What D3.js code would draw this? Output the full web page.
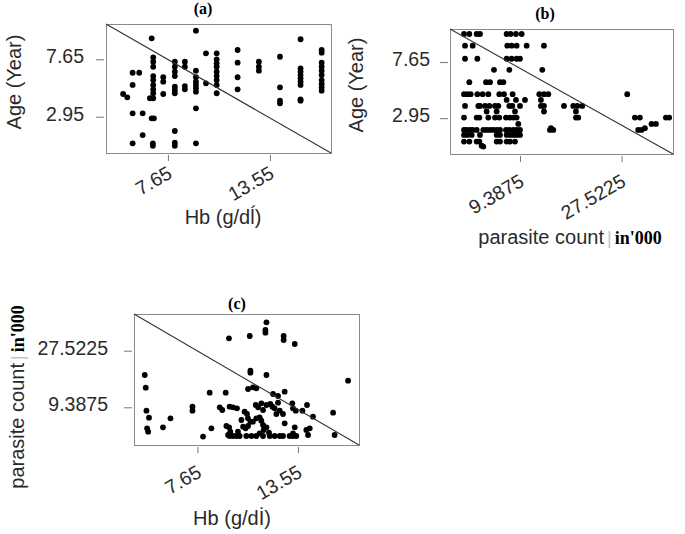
<!DOCTYPE html>
<html><head><meta charset="utf-8">
<script src="https://cdn.jsdelivr.net/npm/d3@7"></script>
<style>
html,body{margin:0;padding:0;background:#fff;}
svg{display:block;}
</style></head>
<body>
<svg id="chart" width="685" height="534"></svg>
<script>
// ---------- DATA ----------
// Panel (a): Hb (g/dl) vs Age (Year); points grouped by Hb column
const hbLevelsA = [5.06, 5.30, 5.61, 5.99, 6.19, 6.61, 6.71, 6.78, 6.80, 6.84, 7.38, 8.05, 8.63, 9.27, 9.85, 10.47, 11.68, 12.91, 14.13, 15.32, 16.54];
const ageByHbA = [
  [4.81],
  [4.54],
  [6.55, 5.55, 3.23, 0.77],
  [6.55],
  [3.23, 1.45],
  [4.46],
  [9.37, 2.82],
  [0.77, 0.57],
  [7.81, 7.45, 7.04, 6.28, 5.95, 5.55, 5.19, 4.87, 4.46],
  [2.82],
  [6.18, 5.82, 4.81],
  [7.45, 7.04, 6.63, 6.28, 5.41, 5.14, 4.87, 1.78, 0.82, 0.57],
  [7.45, 7.04, 5.46, 5.19],
  [9.99, 6.72, 6.18, 5.82, 5.55, 5.28, 5.00, 3.64, 0.77],
  [8.14, 5.68],
  [8.14, 7.65, 7.32, 7.04, 6.63, 6.28, 5.95, 5.55, 4.87],
  [8.41, 7.37, 6.18, 5.19],
  [7.45, 7.04, 6.72],
  [7.86, 5.36, 4.26, 4.05],
  [9.29, 6.91, 6.63, 6.36, 6.09, 5.82, 5.55, 4.37, 4.26],
  [8.41, 8.19, 7.37, 7.04, 6.72, 6.36, 5.95, 5.63, 5.36, 5.08]
];

// Panel (b): parasite count (in '000) vs Age (Year); points grouped by age row
const ageLevelsB = [10.0, 9.02, 7.93, 7.00, 5.97, 4.96, 4.48, 3.98, 3.51, 3.00, 2.47, 2.11, 1.97, 1.55, 0.99, 0.65, 0.57];
const parasiteByAgeB = [
  [-0.60, 0.35, 1.66, 2.25, 7.01, 7.72, 8.67, 9.69],
  [-0.42, 0.95, 7.13, 7.90, 8.79, 10.58, 13.67],
  [-0.42, 1.78, 7.01, 7.90, 8.79, 9.39],
  [4.75, 7.49, 13.37],
  [0.35, 3.33, 4.04, 5.82, 6.42],
  [-0.60, -0.01, 0.59, 1.78, 2.73, 3.74, 5.70, 6.54, 8.08, 12.84, 13.67, 14.44, 28.53],
  [7.01, 8.67, 10.28, 13.13],
  [-0.42, 1.96, 2.25, 3.15, 3.92, 4.93, 5.52, 7.49, 8.02, 9.39, 13.13, 13.67, 17.24, 18.90, 19.62, 20.51],
  [3.44, 5.23, 8.50, 13.67, 19.38],
  [-0.60, 1.66, 2.14, 3.74, 4.93, 5.70, 6.89, 7.61, 8.20, 8.79, 19.38, 19.79, 29.90, 30.79, 35.43, 36.02],
  [9.09, 32.87, 33.65],
  [14.92, 31.68],
  [-0.60, -0.12, 0.47, 0.95, 1.66, 2.85, 3.44, 4.04, 4.63, 5.23, 5.82, 6.89, 7.49, 8.20, 8.79, 9.39, 14.74, 15.33, 30.49, 31.09],
  [-0.60, -0.01, 0.77, 2.25, 5.23, 5.82, 7.01, 7.61, 8.20, 8.79, 9.39],
  [-0.60, 0.35, 1.66, 2.14, 5.23, 5.82, 7.01, 7.61, 8.50],
  [2.55],
  [2.85]
];

// Panel (c): Hb (g/dl) vs parasite count (in '000)
const hbC = [11.70, 11.64, 11.64, 9.50, 10.72, 12.71, 12.71, 13.36, 4.56, 4.62, 10.76, 10.76, 11.70, 16.49,
  10.62, 10.91, 11.11, 8.37, 9.31, 12.09, 12.38, 12.77, 4.66, 4.81, 4.70, 4.76, 5.63, 6.07, 7.36, 7.36, 8.47, 7.98,
  8.96, 9.11, 9.54, 9.74, 9.97, 10.42, 10.56, 10.62, 10.76, 10.62, 10.48, 9.35, 9.51, 9.58, 9.45, 9.74,
  11.07, 11.21, 11.40, 11.50, 11.70, 11.93, 12.05, 12.18, 12.28, 12.38, 12.48, 12.67, 12.77, 13.22, 13.26, 13.42,
  13.81, 14.08, 14.43, 15.61, 15.70, 11.30, 11.40, 11.50, 11.54, 11.70, 11.85, 11.30, 10.23, 10.33, 10.03, 10.91,
  11.11, 13.36, 13.26, 13.45, 14.04, 14.24, 14.14,
  9.54, 9.94, 10.13, 10.52, 10.82, 11.11, 11.50, 11.89, 12.18, 12.48, 12.67, 13.06, 13.26];
const parasiteC = [36.61, 34.15, 33.30, 31.48, 32.23, 32.23, 30.95, 29.67, 19.73, 15.68, 21.12, 20.48, 19.73, 17.92,
  15.25, 15.78, 15.46, 14.07, 14.07, 13.65, 13.01, 14.40, 8.31, 6.06, 2.65, 1.58, 2.97, 5.85, 9.59, 8.31, 2.65, 0.00,
  9.37, 8.52, 9.59, 9.37, 9.05, 7.99, 7.24, 5.85, 4.78, 3.39, 2.65, 3.39, 2.97, 1.58, 0.51, 0.19,
  10.12, 9.37, 10.66, 8.52, 10.12, 10.44, 9.59, 9.05, 7.24, 10.87, 8.31, 7.24, 4.25, 10.66, 9.05, 8.31,
  8.31, 10.12, 6.38, 7.67, 0.51, 6.17, 5.10, 3.71, 2.11, 2.97, 1.26, 1.04, 5.32, 3.18, 1.58, 4.78,
  5.85, 2.97, 1.04, 0.19, 2.11, 2.65, 0.51,
  0.19, 0.19, 0.19, 0.19, 0.19, 0.19, 0.19, 0.19, 0.19, 0.19, 0.19, 0.19, 0.19];

// Tick labels
const hbTicks = [7.65, 13.55];
const ageTicks = [7.65, 2.95];
const parasiteTicks = [9.3875, 27.5225];

// ---------- DRAWING ----------
const svg = d3.select("#chart");
const SANS = "'Liberation Sans', Arial, sans-serif";
const SERIF = "'Liberation Serif', 'Times New Roman', serif";

function panel(cfg) {
  const x = d3.scaleLinear().domain(cfg.xDomain).range([cfg.box[0], cfg.box[2]]);
  const y = d3.scaleLinear().domain(cfg.yDomain).range([cfg.box[3], cfg.box[1]]);
  const g = svg.append("g");

  g.append("rect")
    .attr("x", cfg.box[0] + 0.5).attr("y", cfg.box[1] + 0.5)
    .attr("width", cfg.box[2] - cfg.box[0]).attr("height", cfg.box[3] - cfg.box[1])
    .attr("fill", "none").attr("stroke", "#8a8a8a").attr("stroke-width", 1);

  const xAxis = d3.axisBottom(x).tickValues(cfg.xTicks).tickSize(6).tickSizeOuter(0).tickFormat(d3.format(""));
  const gx = g.append("g").attr("transform", `translate(0,${cfg.box[3] + 2})`).call(xAxis);
  gx.select(".domain").remove();
  gx.selectAll(".tick line").attr("stroke", "#777");
  gx.selectAll(".tick text")
    .attr("font-family", SANS).attr("font-size", 19.5).attr("fill", "#2a2a2a")
    .attr("text-anchor", "end")
    .attr("y", 0).attr("dy", 0)
    .attr("transform", `translate(5,${cfg.xLabOff}) rotate(-30)`);

  const yAxis = d3.axisLeft(y).tickValues(cfg.yTicks).tickSize(8).tickSizeOuter(0).tickFormat(d3.format(""));
  const gy = g.append("g").attr("transform", `translate(${cfg.box[0] - 2},0)`).call(yAxis);
  gy.select(".domain").remove();
  gy.selectAll(".tick line").attr("stroke", "#777");
  gy.selectAll(".tick text")
    .attr("font-family", SANS).attr("font-size", 19.5).attr("fill", "#2a2a2a")
    .attr("x", -cfg.yLabOff).attr("dy", "0.18em");

  g.append("g").selectAll("circle").data(cfg.points).join("circle")
    .attr("cx", d => x(d[0])).attr("cy", d => y(d[1]))
    .attr("r", 2.9).attr("fill", "#000");

  g.append("line")
    .attr("x1", x(cfg.xDomain[0])).attr("y1", y(cfg.yDomain[1]))
    .attr("x2", x(cfg.xDomain[1])).attr("y2", y(cfg.yDomain[0]))
    .attr("stroke", "#333").attr("stroke-width", 1.1);

  g.append("text").attr("x", cfg.title[1]).attr("y", cfg.title[2])
    .attr("text-anchor", "middle").attr("font-family", SERIF).attr("font-weight", "bold")
    .attr("font-size", 16).attr("fill", "#000").text(cfg.title[0]);

  return g;
}

function addParts(t, parts) {
  parts.forEach(p => t.append("tspan").text(p.text)
    .attr("dx", p.dx || 0)
    .attr("font-family", p.serif ? SERIF : SANS).attr("font-weight", p.serif ? "bold" : "normal")
    .attr("font-size", p.size || 20).attr("fill", p.fill || "#2a2a2a"));
}
function xTitle(g, x, y, parts) {
  const t = g.append("text").attr("x", x).attr("y", y).attr("text-anchor", "middle")
    .attr("font-family", SANS).attr("font-size", 20).attr("fill", "#2a2a2a");
  addParts(t, parts);
  return t;
}
function yTitle(g, x, y, parts) {
  const t = g.append("text").attr("transform", `translate(${x},${y}) rotate(-90)`).attr("text-anchor", "middle")
    .attr("font-family", SANS).attr("font-size", 20).attr("fill", "#2a2a2a");
  addParts(t, parts);
  return t;
}

const unitParts = [
  {text: "parasite count"},
  {text: "|", fill: "#c4c4c4", size: 18, dx: 3},
  {text: "in'000", serif: true, size: 18, fill: "#000", dx: 3}
];

// Panel (a)
const ptsA = [];
hbLevelsA.forEach((h, i) => ageByHbA[i].forEach(a => ptsA.push([h, a])));
const gA = panel({
  box: [106, 24, 331, 153], xDomain: [4.07, 17.08], yDomain: [-0.02, 10.54],
  xTicks: hbTicks, yTicks: ageTicks, points: ptsA, xLabOff: 22, yLabOff: 20,
  title: ["(a)", 203, 14]
});
xTitle(gA, 223, 224, [{text: "Hb (g/dĺ)"}]);
yTitle(gA, 21, 82, [{text: "Age (Year)"}]);

// Panel (b)
const ptsB = [];
ageLevelsB.forEach((a, i) => parasiteByAgeB[i].forEach(p => ptsB.push([p, a])));
const gB = panel({
  box: [450, 29, 673, 154], xDomain: [-3.1, 36.7], yDomain: [-0.05, 10.42],
  xTicks: parasiteTicks, yTicks: ageTicks, points: ptsB, xLabOff: 29, yLabOff: 18,
  title: ["(b)", 545, 19]
});
xTitle(gB, 570, 244, unitParts);
yTitle(gB, 363, 85, [{text: "Age (Year)"}]);

// Panel (c)
const ptsC = hbC.map((h, i) => [h, parasiteC[i]]);
const gC = panel({
  box: [134, 314, 359, 445], xDomain: [3.93, 17.13], yDomain: [-2.69, 39.28],
  xTicks: hbTicks, yTicks: parasiteTicks, points: ptsC, xLabOff: 29, yLabOff: 24,
  title: ["(c)", 237, 309]
});
xTitle(gC, 232, 525, [{text: "Hb (g/dİ)"}]);
yTitle(gC, 24, 397, unitParts);
</script>
</body></html>
